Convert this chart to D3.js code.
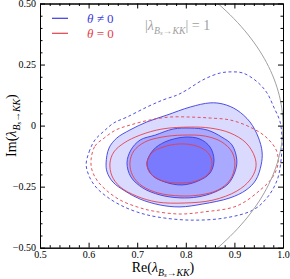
<!DOCTYPE html>
<html>
<head>
<meta charset="utf-8">
<script src="https://cdn.jsdelivr.net/npm/d3@7"></script>
<style>
  html, body { margin: 0; padding: 0; background: #fff; }
  svg { display: block; }
  .axis path, .axis line { stroke: #000; stroke-width: 1; }
</style>
</head>
<body>
<div id="main"></div>
<script>
'use strict';
// - - - - - - - - - -

// data (Re, Im)
const xTicks = [0.5, 0.6, 0.7, 0.8, 0.9, 1.0];
const yTicks = [0.5, 0.25, 0, -0.25, -0.5];
const yTickLabels = ['0.50', '0.25', '0', '\u22120.25', '\u22120.50'];

// theta != 0, filled contours (inner to outer) + dashed outer one
const blueInner = [[0.720,-0.153],[0.733,-0.100],[0.757,-0.067],[0.798,-0.047],[0.829,-0.055],[0.850,-0.088],[0.858,-0.141],[0.850,-0.194],[0.825,-0.227],[0.792,-0.243],[0.757,-0.231],[0.730,-0.202]];
const blueMiddle = [[0.679,-0.153],[0.687,-0.100],[0.706,-0.059],[0.737,-0.039],[0.774,-0.014],[0.809,-0.010],[0.844,-0.018],[0.874,-0.047],[0.895,-0.079],[0.905,-0.141],[0.901,-0.190],[0.887,-0.239],[0.860,-0.272],[0.825,-0.292],[0.788,-0.296],[0.747,-0.284],[0.712,-0.256],[0.687,-0.210]];
const blueOuter = [[0.636,-0.153],[0.642,-0.092],[0.658,-0.051],[0.685,-0.018],[0.720,0.015],[0.761,0.043],[0.809,0.076],[0.850,0.093],[0.877,0.088],[0.905,0.064],[0.932,0.015],[0.949,-0.047],[0.957,-0.108],[0.955,-0.161],[0.944,-0.223],[0.924,-0.264],[0.891,-0.296],[0.835,-0.321],[0.788,-0.333],[0.747,-0.325],[0.706,-0.301],[0.675,-0.268],[0.650,-0.231],[0.638,-0.190]];
const blueDashed = [[0.595,-0.161],[0.601,-0.108],[0.613,-0.059],[0.632,-0.022],[0.652,0.011],[0.679,0.035],[0.720,0.076],[0.753,0.105],[0.782,0.125],[0.802,0.146],[0.835,0.187],[0.870,0.215],[0.895,0.220],[0.918,0.215],[0.947,0.179],[0.967,0.134],[0.981,0.076],[0.994,0.015],[0.998,-0.059],[0.996,-0.141],[0.988,-0.223],[0.967,-0.296],[0.938,-0.346],[0.881,-0.378],[0.809,-0.387],[0.741,-0.374],[0.700,-0.354],[0.665,-0.325],[0.638,-0.292],[0.617,-0.256],[0.603,-0.215]];

// theta = 0 contours
const redInner = [[0.720,-0.157],[0.730,-0.112],[0.753,-0.088],[0.788,-0.075],[0.823,-0.084],[0.846,-0.112],[0.854,-0.153],[0.846,-0.198],[0.821,-0.227],[0.788,-0.235],[0.753,-0.227],[0.728,-0.198]];
const redMiddle = [[0.685,-0.153],[0.693,-0.104],[0.716,-0.067],[0.751,-0.047],[0.794,-0.039],[0.840,-0.043],[0.874,-0.067],[0.895,-0.108],[0.901,-0.161],[0.891,-0.223],[0.866,-0.264],[0.829,-0.284],[0.788,-0.288],[0.743,-0.276],[0.710,-0.247],[0.691,-0.206]];
const redOuter = [[0.644,-0.153],[0.652,-0.108],[0.673,-0.071],[0.706,-0.039],[0.751,-0.014],[0.809,-0.006],[0.850,-0.010],[0.891,-0.030],[0.924,-0.071],[0.942,-0.129],[0.944,-0.174],[0.932,-0.223],[0.905,-0.268],[0.856,-0.305],[0.798,-0.317],[0.741,-0.313],[0.698,-0.288],[0.665,-0.251],[0.648,-0.206]];
const redDashed = [[0.605,-0.141],[0.613,-0.084],[0.632,-0.051],[0.656,-0.018],[0.685,0.002],[0.726,0.023],[0.767,0.035],[0.809,0.035],[0.850,0.031],[0.891,0.023],[0.932,-0.006],[0.965,-0.047],[0.986,-0.100],[0.990,-0.153],[0.979,-0.210],[0.953,-0.264],[0.905,-0.329],[0.835,-0.354],[0.788,-0.362],[0.733,-0.350],[0.700,-0.333],[0.665,-0.305],[0.636,-0.264],[0.617,-0.223],[0.607,-0.182]];

// configuration
const canvas = {
  context: '#main',
  width: 290,
  height: 279,
  padding: { top: 3.5, right: 7, bottom: 31.3, left: 40 }
};
const serif = "'Liberation Serif', 'DejaVu Serif', serif";
const colors = {
  blueLine: '#3c3cdc',
  redLine: '#e3404c',
  fills: ['#dadaff', '#a9a9ff', '#7a7aff'],
  gray: '#a0a0a0'
};

let svg, xScale, yScale;

// methods
function setCanvas() {
  svg = d3.select(canvas.context).append('svg')
    .attr('width', canvas.width)
    .attr('height', canvas.height);
}

function setScales() {
  xScale = d3.scaleLinear()
    .domain([0.5, 1.0])
    .range([canvas.padding.left, canvas.width - canvas.padding.right]);
  yScale = d3.scaleLinear()
    .domain([0.5, -0.5])
    .range([canvas.padding.top, canvas.height - canvas.padding.bottom]);
}

function minorTicks(ticks, n) {
  let out = [];
  for (let i = 0; i < ticks.length - 1; i++) {
    let a = ticks[i], b = ticks[i + 1];
    for (let k = 1; k < n; k++) out.push(a + (b - a) * k / n);
  }
  return out;
}

function addAxis(axis, tx, ty) {
  const g = svg.append('g').attr('class', 'axis')
    .attr('transform', 'translate(' + tx + ',' + ty + ')')
    .call(axis);
  g.attr('font-family', serif).attr('font-size', 10);
  g.selectAll('text').attr('fill', '#000');
  return g;
}

function drawAxes() {
  const x0 = xScale.range()[0], x1 = xScale.range()[1];
  const y0 = yScale.range()[0], y1 = yScale.range()[1];
  const xMinor = minorTicks(xTicks, 5);
  const yMinor = minorTicks(yTicks, 5);

  // bottom
  addAxis(d3.axisBottom(xScale).tickValues(xTicks).tickFormat(d3.format('.1f')).tickSize(-5).tickSizeOuter(0).tickPadding(3), 0, y1);
  addAxis(d3.axisBottom(xScale).tickValues(xMinor).tickFormat('').tickSize(-2.5).tickSizeOuter(0), 0, y1);
  // top
  addAxis(d3.axisTop(xScale).tickValues(xTicks).tickFormat('').tickSize(-5).tickSizeOuter(0), 0, y0);
  addAxis(d3.axisTop(xScale).tickValues(xMinor).tickFormat('').tickSize(-2.5).tickSizeOuter(0), 0, y0);
  // left
  addAxis(d3.axisLeft(yScale).tickValues(yTicks).tickFormat((d, i) => yTickLabels[i]).tickSize(-5).tickSizeOuter(0).tickPadding(4), x0, 0);
  addAxis(d3.axisLeft(yScale).tickValues(yMinor).tickFormat('').tickSize(-2.5).tickSizeOuter(0), x0, 0);
  // right
  addAxis(d3.axisRight(yScale).tickValues(yTicks).tickFormat('').tickSize(-5).tickSizeOuter(0), x1, 0);
  addAxis(d3.axisRight(yScale).tickValues(yMinor).tickFormat('').tickSize(-2.5).tickSizeOuter(0), x1, 0);
}

function drawContours() {
  const x0 = xScale.range()[0], x1 = xScale.range()[1];
  const y0 = yScale.range()[0], y1 = yScale.range()[1];

  svg.append('clipPath').attr('id', 'plotclip')
    .append('rect').attr('x', x0).attr('y', y0).attr('width', x1 - x0).attr('height', y1 - y0);

  const g = svg.append('g').attr('clip-path', 'url(#plotclip)');
  const line = d3.line()
    .x(d => xScale(d[0]))
    .y(d => yScale(d[1]))
    .curve(d3.curveCatmullRomClosed.alpha(0.5));

  // filled blue regions
  [blueOuter, blueMiddle, blueInner].forEach(function (c, i) {
    g.append('path').attr('d', line(c))
      .attr('fill', colors.fills[i])
      .attr('stroke', colors.blueLine)
      .attr('stroke-width', 0.9);
  });

  // red solid
  [redOuter, redMiddle, redInner].forEach(function (c) {
    g.append('path').attr('d', line(c))
      .attr('fill', 'none')
      .attr('stroke', colors.redLine)
      .attr('stroke-width', 0.9);
  });

  // dashed
  g.append('path').attr('d', line(redDashed))
    .attr('fill', 'none').attr('stroke', colors.redLine).attr('stroke-width', 0.9)
    .attr('stroke-dasharray', '3,2.5');
  g.append('path').attr('d', line(blueDashed))
    .attr('fill', 'none').attr('stroke', colors.blueLine).attr('stroke-width', 0.9)
    .attr('stroke-dasharray', '3,2.5');

  // |lambda| = 1
  const phi = d3.range(-90, 90.5, 1).map(a => a * Math.PI / 180);
  const circle = d3.line()
    .x(a => xScale(Math.cos(a)))
    .y(a => yScale(Math.sin(a)));
  g.append('path').attr('d', circle(phi))
    .attr('fill', 'none').attr('stroke', colors.gray).attr('stroke-width', 1);
}

function lambdaLabel(sel, prefix, suffix, size) {
  sel.attr('font-family', serif).attr('font-size', size);
  sel.append('tspan').text(prefix);
  sel.append('tspan').attr('font-style', 'italic').text('\u03bb');
  sel.append('tspan').attr('font-style', 'italic').attr('font-size', size * 0.7).attr('dy', size * 0.28).text('B');
  sel.append('tspan').attr('font-style', 'italic').attr('font-size', size * 0.5).attr('dy', size * 0.1).text('s');
  sel.append('tspan').attr('font-size', size * 0.7).attr('dy', -size * 0.1).text('\u2192');
  sel.append('tspan').attr('font-style', 'italic').attr('font-size', size * 0.7).text('KK');
  sel.append('tspan').attr('dy', -size * 0.28).text(suffix);
}

function drawLabels() {
  const xl = svg.append('text')
    .attr('x', 163).attr('y', 272).attr('text-anchor', 'middle');
  lambdaLabel(xl, 'Re(', ')', 14);

  const yl = svg.append('text')
    .attr('transform', 'translate(16,' + yScale(0) + ') rotate(-90)')
    .attr('text-anchor', 'middle');
  lambdaLabel(yl, 'Im(', ')', 14);

  const note = svg.append('text')
    .attr('x', 145).attr('y', 30).attr('fill', colors.gray);
  lambdaLabel(note, '|', '| = 1', 14);
}

function drawLegend() {
  const items = [
    { color: colors.blueLine, sign: '\u2260', y: 18.3 },
    { color: colors.redLine, sign: '=', y: 33.3 }
  ];
  items.forEach(function (it) {
    svg.append('line')
      .attr('x1', 52).attr('x2', 68).attr('y1', it.y).attr('y2', it.y)
      .attr('stroke', it.color).attr('stroke-width', 1.2);
    const t = svg.append('text')
      .attr('x', 87).attr('y', it.y + 4.5)
      .attr('font-family', serif).attr('font-size', 13).attr('fill', it.color);
    t.append('tspan').attr('font-style', 'italic').text('\u03b8');
    t.append('tspan').text(' ' + it.sign + ' 0');
  });
}

// control
setCanvas();
setScales();
drawContours();
drawAxes();
drawLabels();
drawLegend();

// - - - - - - - - - -
</script>
</body>
</html>
